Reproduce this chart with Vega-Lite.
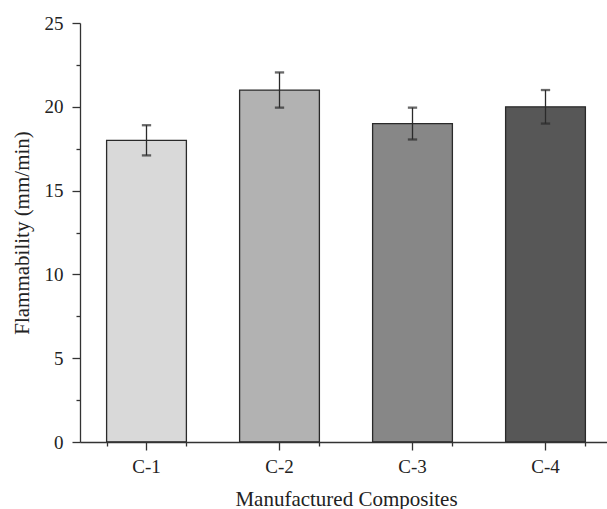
{
  "$schema": "https://vega.github.io/schema/vega-lite/v6.json",
  "width": 527,
  "height": 419,
  "autosize": {"type": "none"},
  "padding": {"left": 80, "top": 23, "right": 0, "bottom": 67},
  "background": "white",
  "config": {
    "view": {"stroke": null},
    "font": "'Liberation Serif', 'Times New Roman', serif",
    "axis": {
      "labelFont": "'Liberation Serif', 'Times New Roman', serif",
      "titleFont": "'Liberation Serif', 'Times New Roman', serif",
      "labelFontSize": 19,
      "titleFontSize": 21,
      "titleFontWeight": "normal",
      "labelColor": "#222",
      "titleColor": "#222",
      "domainColor": "#333",
      "tickColor": "#333",
      "domainWidth": 1.3,
      "tickWidth": 1.3,
      "grid": false
    }
  },
  "data": {
    "values": [
      {"composite": "C-1", "value": 18, "err": 0.9},
      {"composite": "C-2", "value": 21, "err": 1.05},
      {"composite": "C-3", "value": 19, "err": 0.95},
      {"composite": "C-4", "value": 20, "err": 1.0}
    ]
  },
  "transform": [
    {"calculate": "datum.value - datum.err", "as": "lo"},
    {"calculate": "datum.value + datum.err", "as": "hi"}
  ],
  "resolve": {"axis": {"x": "independent", "y": "independent"}},
  "layer": [
    {
      "mark": {"type": "bar", "stroke": "#2a2a2a", "strokeWidth": 1.3},
      "encoding": {
        "x": {
          "field": "composite", "type": "nominal", "sort": null,
          "scale": {"range": [0, 532], "paddingInner": 0.4, "paddingOuter": 0.2},
          "axis": {"title": "Manufactured Composites", "orient": "bottom", "labelAngle": 0, "tickSize": 8, "labelPadding": 7, "titlePadding": 12, "zindex": 1}
        },
        "y": {
          "field": "value", "type": "quantitative",
          "scale": {"domain": [0, 25], "nice": false},
          "axis": {"title": "Flammability (mm/min)", "orient": "left", "values": [0, 5, 10, 15, 20, 25], "tickSize": 8, "labelPadding": 9, "titlePadding": 12, "zindex": 1}
        },
        "fill": {
          "field": "composite", "type": "nominal", "legend": null,
          "scale": {"domain": ["C-1", "C-2", "C-3", "C-4"], "range": ["#d9d9d9", "#b2b2b2", "#878787", "#575757"]}
        }
      }
    },
    {
      "mark": {"type": "errorbar", "ticks": {"size": 8, "stroke": "#2a2a2a", "strokeWidth": 1.3}, "rule": {"stroke": "#2a2a2a", "strokeWidth": 1.3}},
      "encoding": {
        "x": {
          "field": "composite", "type": "nominal", "sort": null,
          "axis": {"title": null, "orient": "bottom", "offset": 0, "labels": false, "domain": false, "tickBand": "extent", "tickSize": 4}
        },
        "y": {
          "field": "lo", "type": "quantitative",
          "axis": {"title": null, "orient": "left", "offset": 0, "labels": false, "domain": false, "values": [2.5, 7.5, 12.5, 17.5, 22.5], "tickSize": 4}
        },
        "y2": {"field": "hi"}
      }
    }
  ]
}
